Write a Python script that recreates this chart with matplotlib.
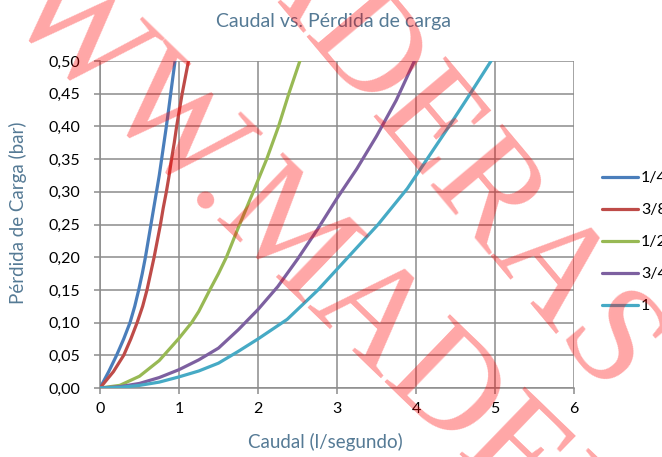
import math
import matplotlib
matplotlib.use('Agg')
import matplotlib.pyplot as plt
from matplotlib.ticker import FuncFormatter
from matplotlib.textpath import TextToPath
from matplotlib.font_manager import FontProperties

plt.rcParams['font.family'] = ['Lato', 'DejaVu Sans']

# ---- data ----
series_names = ['1/4', '3/8', '1/2', '3/4', '1']

y_14 = [0, 0.025, 0.05, 0.075, 0.10, 0.125, 0.15, 0.175, 0.20, 0.225, 0.25,
        0.275, 0.30, 0.325, 0.35, 0.375, 0.40, 0.425, 0.45, 0.475, 0.50]
x_14 = [0, 0.11, 0.21, 0.30, 0.38, 0.44, 0.49, 0.535, 0.575, 0.61, 0.645,
        0.68, 0.715, 0.75, 0.78, 0.81, 0.84, 0.868, 0.895, 0.922, 0.95]

y_38 = [0, 0.025, 0.05, 0.075, 0.10, 0.125, 0.15, 0.175, 0.20, 0.225, 0.25,
        0.275, 0.30, 0.325, 0.35, 0.375, 0.40, 0.425, 0.45, 0.475, 0.50]
x_38 = [0, 0.17, 0.30, 0.39, 0.47, 0.54, 0.595, 0.64, 0.685, 0.725, 0.765,
        0.80, 0.84, 0.875, 0.905, 0.94, 0.97, 1.005, 1.04, 1.08, 1.12]

x_12 = [0, 0.25, 0.50, 0.75, 1.00, 1.16, 1.25, 1.39, 1.50, 1.60, 1.75, 1.94, 2.11, 2.26, 2.39, 2.53]
y_12 = [0, 0.004, 0.018, 0.042, 0.076, 0.10, 0.117, 0.15, 0.175, 0.20, 0.245, 0.30, 0.35, 0.40, 0.45, 0.50]

x_34 = [0, 0.25, 0.5, 0.75, 1.0, 1.25, 1.5, 1.75, 2.0, 2.25, 2.5, 2.75, 3.0, 3.25, 3.5, 3.75, 3.98]
y_34 = [0, 0.002, 0.007, 0.016, 0.028, 0.043, 0.061, 0.089, 0.12, 0.155, 0.197, 0.242, 0.29, 0.335,
        0.385, 0.44, 0.50]

x_1 = [0, 0.25, 0.5, 0.75, 1.0, 1.25, 1.5, 1.75, 2.0, 2.37, 2.76, 3.14, 3.52, 3.89, 4.14, 4.39, 4.66, 4.95]
y_1 = [0, 0.001, 0.004, 0.009, 0.017, 0.026, 0.038, 0.056, 0.075, 0.105, 0.15, 0.20, 0.25, 0.305,
       0.35, 0.395, 0.445, 0.50]

x_ticks = [0, 1, 2, 3, 4, 5, 6]
y_ticks = [0.00, 0.05, 0.10, 0.15, 0.20, 0.25, 0.30, 0.35, 0.40, 0.45, 0.50]

title = 'Caudal vs. Pérdida de carga'
x_label = 'Caudal (l/segundo)'
y_label = 'Pérdida de Carga (bar)'
watermark = 'WWW.MADERAS'

colors = ['#4A7EBB', '#BE4B48', '#98B954', '#7D60A0', '#46AAC5']
label_color = '#557A95'
grid_color = '#8C8C8C'

W, H = 662, 457
DPI = 100
fig = plt.figure(figsize=(W / DPI, H / DPI), dpi=DPI)
ax = fig.add_axes([100 / W, 1 - 388 / H, 474 / W, 327 / H])

xs = [x_14, x_38, x_12, x_34, x_1]
ys = [y_14, y_38, y_12, y_34, y_1]
for xv, yv, c, name in zip(xs, ys, colors, series_names):
    ax.plot(xv, yv, color=c, lw=2.3, label=name, solid_capstyle='round',
            solid_joinstyle='round', zorder=3)

ax.set_xlim(0, 6)
ax.set_ylim(0, 0.5)
ax.set_xticks(x_ticks)
ax.set_yticks(y_ticks)
ax.yaxis.set_major_formatter(FuncFormatter(lambda v, p: f'{v:.2f}'.replace('.', ',')))
ax.xaxis.set_major_formatter(FuncFormatter(lambda v, p: f'{v:.0f}'))
ax.grid(True, color=grid_color, lw=1.1)
for s in ['top', 'right']:
    ax.spines[s].set_visible(False)
for s in ['left', 'bottom']:
    ax.spines[s].set_color(grid_color)
    ax.spines[s].set_linewidth(1.1)
ax.tick_params(axis='both', colors=grid_color, length=4, width=1.1, labelcolor='black',
               labelsize=11.5)
ax.tick_params(axis='y', pad=10)
ax.tick_params(axis='x', pad=6)

fig.text(333 / W, 1 - 22 / H, title, ha='center', va='center', color=label_color, fontsize=14)
fig.text(325 / W, 1 - 442 / H, x_label, ha='center', va='center', color=label_color, fontsize=13.5)
fig.text(18 / W, 1 - 213 / H, y_label, ha='center', va='center', rotation=90,
         color=label_color, fontsize=13.5)

ax.legend(loc='upper left', bbox_to_anchor=(602 / W, 1 - 171 / H), bbox_transform=fig.transFigure,
          frameon=False, handlelength=2.25, handletextpad=0.2, labelspacing=1.12,
          borderpad=0, borderaxespad=0, fontsize=11.5)

# ---- watermark (two diagonal lines of the same text) ----
wm_size = 104
wm_fp = FontProperties(family='Liberation Serif', size=wm_size)
t2p = TextToPath()


def text_width_px(s):
    w, h, d = t2p.get_text_width_height_descent(s, wm_fp, ismath=False)
    return w * DPI / 72.0


def place_watermark(idx, cx, cy, angle):
    """Place watermark so that character idx is centred at screen pixel (cx, cy)."""
    along = text_width_px(watermark[:idx]) + text_width_px(watermark[idx]) / 2
    up = 0.33 * wm_size * DPI / 72.0
    th = math.radians(angle)
    dx_along, dy_along = math.cos(th), -math.sin(th)      # display coords (y up)
    dx_up, dy_up = math.sin(th), math.cos(th)
    X = cx - along * dx_along - up * dx_up
    Y = (H - cy) - along * dy_along - up * dy_up
    fig.text(X / W, Y / H, watermark, rotation=-angle, rotation_mode='anchor',
             ha='left', va='baseline', fontproperties=wm_fp,
             color='red', alpha=0.35, zorder=10)


place_watermark(6, 452, 381, 44)   # lower line, anchored on the "D"
place_watermark(7, 436, 117, 50)   # upper line, anchored on the "E"

fig.savefig('out.png', dpi=DPI)
